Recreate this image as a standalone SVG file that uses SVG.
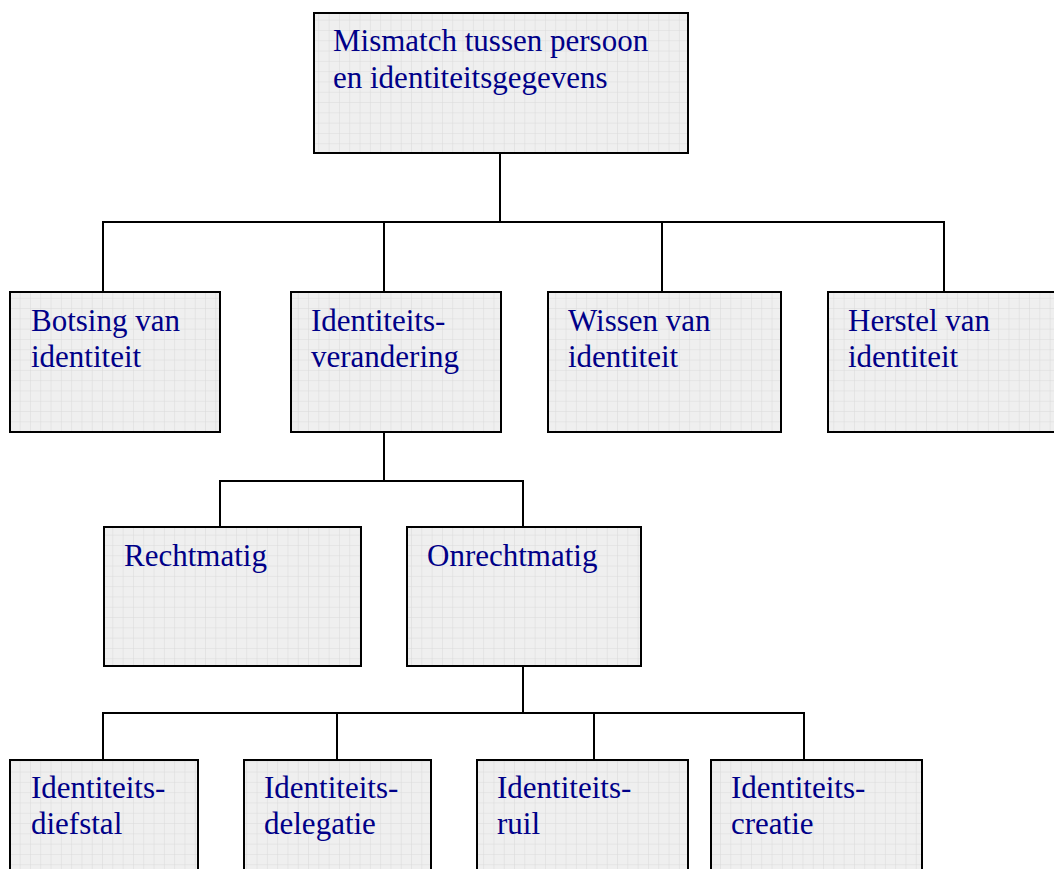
<svg xmlns="http://www.w3.org/2000/svg" width="1054" height="869" viewBox="0 0 1054 869">
<defs>
<pattern id="grid" patternUnits="userSpaceOnUse" width="10.3" height="10.3">
<rect width="10.3" height="10.3" fill="#efefef"/>
<path d="M10.3 0V10.3M0 10.3H10.3" stroke="#dadada" stroke-width="1" fill="none"/>
</pattern>
<style>
.box{fill:url(#grid);stroke:#000;stroke-width:2}
.lbl{font-family:"Liberation Serif","Times New Roman",serif;font-size:31px;fill:#000088}
.con{stroke:#000;stroke-width:2;fill:none}
</style>
</defs>
<rect width="1054" height="869" fill="#fff"/>
<g id="connectors">
<path class="con" d="M500 153V222M103 292V222H944V292M384 222V292"/>
<path class="con" d="M662 222V292"/>
<path class="con" d="M384 432V481M220 527V481H523V527"/>
<path class="con" d="M523 666V713M103 760V713H804V760M337 713V760M594 713V760"/>
</g>
<g id="n-root"><rect class="box" x="314" y="13" width="374" height="140"/><text class="lbl" x="333" y="51">Mismatch tussen persoon</text><text class="lbl" x="333" y="88">en identiteitsgegevens</text></g>
<g id="n-botsing"><rect class="box" x="10" y="292" width="210" height="140"/><text class="lbl" x="31" y="331">Botsing van</text><text class="lbl" x="31" y="367">identiteit</text></g>
<g id="n-verandering"><rect class="box" x="291" y="292" width="210" height="140"/><text class="lbl" x="311" y="331">Identiteits-</text><text class="lbl" x="311" y="367">verandering</text></g>
<g id="n-wissen"><rect class="box" x="548" y="292" width="233" height="140"/><text class="lbl" x="568" y="331">Wissen van</text><text class="lbl" x="568" y="367">identiteit</text></g>
<g id="n-herstel"><rect class="box" x="828" y="292" width="240" height="140"/><text class="lbl" x="848" y="331">Herstel van</text><text class="lbl" x="848" y="367">identiteit</text></g>
<g id="n-rechtmatig"><rect class="box" x="104" y="527" width="257" height="139"/><text class="lbl" x="124" y="566">Rechtmatig</text></g>
<g id="n-onrechtmatig"><rect class="box" x="407" y="527" width="234" height="139"/><text class="lbl" x="427" y="566">Onrechtmatig</text></g>
<g id="n-diefstal"><rect class="box" x="10" y="760" width="188" height="130"/><text class="lbl" x="31" y="798">Identiteits-</text><text class="lbl" x="31" y="834">diefstal</text></g>
<g id="n-delegatie"><rect class="box" x="244" y="760" width="187" height="130"/><text class="lbl" x="264" y="798">Identiteits-</text><text class="lbl" x="264" y="834">delegatie</text></g>
<g id="n-ruil"><rect class="box" x="477" y="760" width="211" height="130"/><text class="lbl" x="497" y="798">Identiteits-</text><text class="lbl" x="497" y="834">ruil</text></g>
<g id="n-creatie"><rect class="box" x="711" y="760" width="211" height="130"/><text class="lbl" x="731" y="798">Identiteits-</text><text class="lbl" x="731" y="834">creatie</text></g>
</svg>
